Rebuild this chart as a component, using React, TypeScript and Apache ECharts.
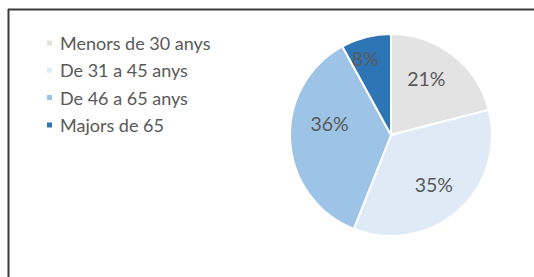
import React, { useEffect, useRef } from "react";
import * as echarts from "echarts";

const categories = ["Menors de 30 anys", "De 31 a 45 anys", "De 46 a 65 anys", "Majors de 65"];
const values = [21, 35, 36, 8];
const colors = ["#e3e3e3", "#deebf7", "#9dc3e6", "#2e75b6"];
// label nudges (px) relative to the library's inside position
const labelDx = [2.5, 7.5, -8, -12.6];
const labelDy = [-14.5, 9.5, -15, -24.6];

export default function App() {
  const ref = useRef<HTMLDivElement>(null);
  useEffect(() => {
    const chart = echarts.init(ref.current!, null, { renderer: "svg" });
    chart.setOption({
      animation: false,
      backgroundColor: "#ffffff",
      graphic: [
        { type: "line", shape: { x1: 8, y1: 9.5, x2: 600, y2: 9.5 }, style: { stroke: "#3a3a3a", lineWidth: 2 } },
        { type: "line", shape: { x1: 8.5, y1: 9, x2: 8.5, y2: 400 }, style: { stroke: "#3a3a3a", lineWidth: 2 } },
      ],
      legend: {
        orient: "vertical",
        left: 45,
        top: 33,
        padding: 0,
        icon: "rect",
        itemWidth: 7,
        itemHeight: 7,
        itemGap: 7.3,
        data: categories,
        textStyle: {
          fontFamily: "Lato",
          fontSize: 18,
          color: "#595959",
          lineHeight: 20,
          padding: [0, 0, 0, 2],
        },
      },
      series: [
        {
          type: "pie",
          center: [391, 135],
          radius: [0, 101],
          startAngle: 90,
          clockwise: true,
          avoidLabelOverlap: false,
          itemStyle: { borderColor: "#ffffff", borderWidth: 2 },
          label: {
            show: true,
            position: "inside",
            formatter: "{d}%",
            fontFamily: "Lato",
            fontSize: 19.5,
            color: "#595959",
          },
          labelLine: { show: false },
          labelLayout: (p: any) => ({ dx: labelDx[p.dataIndex], dy: labelDy[p.dataIndex] }),
          emphasis: { disabled: true },
          data: categories.map((name, i) => ({
            name,
            value: values[i],
            itemStyle: { color: colors[i] },
          })),
        },
      ],
    });
    return () => chart.dispose();
  }, []);
  return (
    <div
      ref={ref}
      style={{ position: "fixed", left: 0, top: 0, width: 534, height: 277 }}
    />
  );
}
